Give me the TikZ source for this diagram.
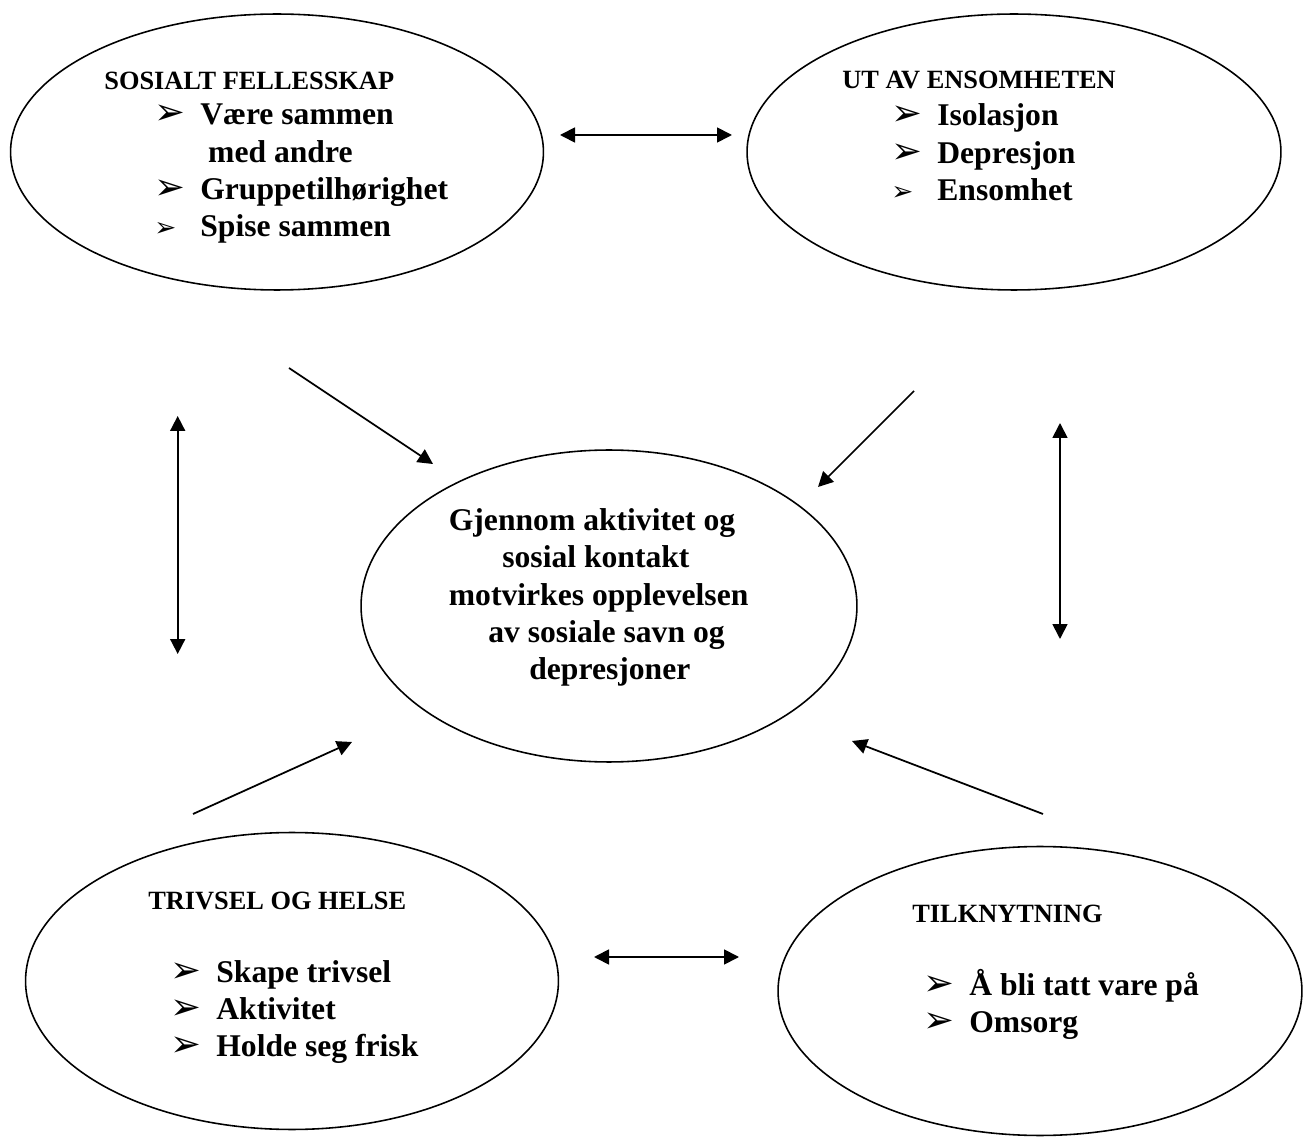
\documentclass[tikz,border=0pt]{standalone}
\usepackage{fontspec}
\setmainfont{Liberation Serif}
\newfontfamily\pilfont{DejaVu Sans}
\usetikzlibrary{shapes.geometric,arrows.meta}

\newcommand{\pkt}[1][21]{\makebox[0.92cm][l]{\fontsize{#1}{#1}\selectfont\pilfont ➢}}
\newcommand{\pktrom}{\hspace{0.92cm}}

\begin{document}
\begin{tikzpicture}[x=0.02cm,y=-0.02cm,
  boble/.style={draw,ellipse,line width=0.9pt,inner sep=0pt},
  tittel/.style={anchor=base west,inner sep=0pt,font=\fontsize{15}{18}\selectfont\bfseries},
  liste/.style={anchor=base west,inner sep=0pt,font=\fontsize{18}{21.2}\selectfont\bfseries},
  pil/.style={line width=1pt,-{Triangle[length=0.3cm,width=0.3cm]}},
  dobbelpil/.style={line width=1pt,{Triangle[length=0.3cm,width=0.3cm]}-{Triangle[length=0.3cm,width=0.3cm]}}]
\useasboundingbox (0,0) rectangle (1303,1138);

\node[boble,minimum width=10.66cm,minimum height=5.52cm] (fs) at (277,152) {};
\node[boble,minimum width=10.68cm,minimum height=5.52cm] (ue) at (1014,152) {};
\node[boble,minimum width=9.92cm,minimum height=6.24cm] (mid) at (609,606) {};
\node[boble,minimum width=10.66cm,minimum height=5.94cm] (th) at (292,981) {};
\node[boble,minimum width=10.48cm,minimum height=5.78cm] (tk) at (1040,991) {};

\node[tittel] (fs-tittel) at (104,90) {SOSIALT FELLESSKAP};
\node[liste] (fs-liste) at (154,125) {\begin{tabular}[t]{@{}l@{}}
  \pkt Være sammen\\
  \pktrom\ med andre\\
  \pkt Gruppetilhørighet\\
  \pkt[15]Spise sammen
\end{tabular}};

\node[tittel] (ue-tittel) at (842,89) {UT AV ENSOMHETEN};
\node[liste] (ue-liste) at (891,126) {\begin{tabular}[t]{@{}l@{}}
  \pkt Isolasjon\\
  \pkt Depresjon\\
  \pkt[15]Ensomhet
\end{tabular}};

\node[liste] (mid-tekst) at (448.5,530.7) {\begin{tabular}[t]{@{}l@{}}
  Gjennom aktivitet og\\
  \hspace{1.07cm}sosial kontakt\\
  motvirkes opplevelsen\\
  \hspace{0.79cm}av sosiale savn og\\
  \hspace{1.61cm}depresjoner
\end{tabular}};

\node[tittel] (th-tittel) at (148,909) {TRIVSEL OG HELSE};
\node[liste] (th-liste) at (170,982) {\begin{tabular}[t]{@{}l@{}}
  \pkt Skape trivsel\\
  \pkt Aktivitet\\
  \pkt Holde seg frisk
\end{tabular}};

\node[tittel] (tk-tittel) at (912,922) {TILKNYTNING};
\node[liste] (tk-liste) at (923,995) {\begin{tabular}[t]{@{}l@{}}
  \pkt Å bli tatt vare på\\
  \pkt Omsorg
\end{tabular}};

\coordinate (fs-h) at (560,135);
\coordinate (ue-v) at (732,135);
\coordinate (th-h) at (594,957);
\coordinate (tk-v) at (739,957);
\coordinate (fs-n) at (177.7,416);
\coordinate (th-o) at (177.7,654);
\coordinate (ue-n) at (1060,423);
\coordinate (tk-o) at (1060,639);
\coordinate (fs-ut) at (289,368);
\coordinate (mid-nv) at (433,464);
\coordinate (ue-ut) at (914,391);
\coordinate (mid-no) at (818,487);
\coordinate (th-ut) at (193,814);
\coordinate (mid-sv) at (352,742);
\coordinate (tk-ut) at (1043,814);
\coordinate (mid-so) at (852,741);

\draw[dobbelpil] (fs-h) -- (ue-v);
\draw[dobbelpil] (th-h) -- (tk-v);
\draw[dobbelpil] (fs-n) -- (th-o);
\draw[dobbelpil] (ue-n) -- (tk-o);
\draw[pil] (fs-ut) -- (mid-nv);
\draw[pil] (ue-ut) -- (mid-no);
\draw[pil] (th-ut) -- (mid-sv);
\draw[pil] (tk-ut) -- (mid-so);

\end{tikzpicture}
\end{document}
